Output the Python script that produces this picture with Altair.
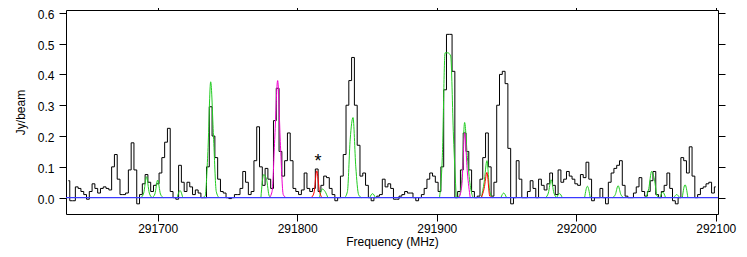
import altair as alt
import pandas as pd

# ---- data ----
freq_start = 291636.0   # MHz, first channel centre
chan_width = 2.0        # MHz

spectrum = [
    0.055, -0.01, -0.01, 0.035, 0.03, 0.02, 0.01, -0.005, 0.02, 0.045,
    0.03, 0.015, 0.03, 0.035, 0.03, 0.025, 0.1, 0.14, 0.06, 0.01,
    0.01, 0.015, 0.09, 0.178, 0.09, -0.02, 0.01, 0.045, 0.075, 0.05,
    0.02, 0.04, 0.045, 0.08, 0.13, 0.18, 0.225, 0.02, 0.0, -0.005,
    0.105, 0.05, 0.02, 0.05, 0.035, 0.01, 0.025, 0.015, 0.0, 0.0,
    0.1, 0.295, 0.2, 0.13, 0.06, 0.02, 0.015, 0.0, -0.003, 0.0,
    0.01, 0.01, 0.03, 0.085, 0.05, 0.01, 0.02, 0.12, 0.23, 0.1,
    0.04, 0.095, 0.06, 0.03, 0.25, 0.355, 0.15, 0.07, 0.12, 0.21,
    0.12, 0.03, 0.02, 0.01, 0.025, 0.08, 0.03, 0.02, 0.03, 0.093,
    0.02, 0.04, 0.07, 0.065, 0.03, 0.01, -0.01, 0.0, 0.07, 0.14,
    0.3, 0.38, 0.455, 0.3, 0.17, 0.07, 0.08, 0.04, 0.0, -0.01,
    0.0, 0.005, 0.01, 0.06, 0.035, 0.045, 0.03, -0.005, -0.005, 0.005,
    0.01, 0.02, 0.015, 0.015, 0.0, -0.01, 0.0, 0.01, 0.03, 0.06,
    0.08, 0.07, 0.05, 0.02, 0.1, 0.35, 0.53, 0.53, 0.41, 0.0,
    0.02, 0.09, 0.21, 0.15, 0.09, 0.02, 0.0, 0.005, 0.06, 0.13,
    0.21, 0.1, 0.005, 0.05, 0.3, 0.4, 0.41, 0.37, 0.16, -0.02,
    0.0, 0.12, 0.06, 0.0, 0.0, 0.02, 0.055, 0.03, 0.0, 0.06,
    0.04, 0.025, 0.045, 0.08, 0.04, 0.01, 0.09, 0.05, 0.06, 0.085,
    0.07, 0.06, 0.045, 0.04, 0.075, 0.065, 0.115, 0.06, -0.01, 0.0,
    0.0, 0.03, 0.0, -0.02, 0.05, 0.08, 0.095, 0.105, 0.12, 0.04,
    0.005, 0.0, 0.0, 0.015, 0.035, 0.065, 0.02, 0.005, 0.02, 0.055,
    0.085, 0.01, 0.0, 0.02, 0.04, 0.08, 0.03, -0.01, -0.02, 0.0,
    0.13, 0.12, 0.08, 0.165, 0.07, 0.0, 0.01, 0.03, 0.035, 0.045,
    0.05, 0.015, 0.035,
]

# model lines: channel index -> model value (zero elsewhere)
green_chan = [27, 28, 29, 31, 32, 33, 40, 49, 50, 51, 52, 53, 70, 71, 72,
              91, 92, 100, 101, 102, 103, 104, 109, 134, 135, 136, 137, 138,
              140, 141, 142, 143, 144, 149, 150, 151, 156, 172, 173, 174,
              176, 186, 196, 197, 198, 208, 209, 210, 211, 213, 218, 221]
green_val = [0.015, 0.068, 0.015, 0.012, 0.057, 0.012, 0.023, 0.005, 0.15,
             0.376, 0.2, 0.02, 0.075, 0.06, 0.005, 0.028, 0.02, 0.02, 0.19,
             0.26, 0.1, 0.01, 0.013, 0.13, 0.47, 0.47, 0.46, 0.2, 0.005,
             0.06, 0.244, 0.13, 0.04, 0.05, 0.12, 0.02, 0.015, 0.015, 0.058,
             0.015, 0.013, 0.037, 0.01, 0.039, 0.01, 0.03, 0.085, 0.06,
             0.005, 0.018, 0.01, 0.042]

magenta_chan = [73, 74, 75, 76, 77, 141, 142, 143]
magenta_val = [0.02, 0.2, 0.38, 0.17, 0.01, 0.04, 0.21, 0.08]

red_chan = [88, 89, 90, 149, 150, 151]
red_val = [0.015, 0.087, 0.02, 0.03, 0.082, 0.005]

x_ticks = [291700, 291800, 291900, 292000, 292100]
y_ticks = [0.0, 0.1, 0.2, 0.3, 0.4, 0.5, 0.6]

star_freq = [291815]
star_y = [0.115]
star_text = ["*"]

# ---- build tables ----
n = len(spectrum)
freqs = [freq_start + chan_width * i for i in range(n)]

spec_df = pd.DataFrame({"freq": freqs, "flux": spectrum})


def model_table(chans, vals):
    """Split a sparse model into separate peaks, each closed by zero channels."""
    rows = []
    lookup = dict(zip(chans, vals))
    groups = []
    prev = None
    for c in sorted(chans):
        if prev is None or c - prev > 1:
            groups.append([])
        groups[-1].append(c)
        prev = c
    for seg, g in enumerate(groups):
        pts = [g[0] - 1] + g + [g[-1] + 1]
        for c in pts:
            if 0 <= c < n:
                rows.append({"freq": freqs[c], "val": lookup.get(c, 0.0), "seg": seg})
    return pd.DataFrame(rows)


green_df = model_table(green_chan, green_val)
magenta_df = model_table(magenta_chan, magenta_val)
red_df = model_table(red_chan, red_val)

star_df = pd.DataFrame({"freq": star_freq, "y": star_y, "t": star_text})
base_df = pd.DataFrame({"y": [0.0]})

xscale = alt.Scale(domain=[291634.3, 292101.6], nice=False, zero=False)
yscale = alt.Scale(domain=[-0.053, 0.609], nice=False, zero=False)

FONT = "Liberation Sans"

spec = alt.Chart(spec_df).mark_line(interpolate="step", color="black", strokeWidth=1).encode(
    x=alt.X("freq:Q", scale=xscale,
            axis=alt.Axis(orient="bottom", values=x_ticks, format="d",
                          title="Frequency (MHz)", titlePadding=2,
                          labelPadding=2)),
    y=alt.Y("flux:Q", scale=yscale,
            axis=alt.Axis(orient="left", values=y_ticks, format=".1f",
                          title="Jy/beam", titlePadding=10,
                          labelPadding=5, labelOffset=1.5)),
)

mirror = alt.Chart(spec_df).mark_line(strokeOpacity=0).encode(
    x=alt.X("freq:Q", scale=xscale,
            axis=alt.Axis(orient="top", values=x_ticks, labels=False, title="")),
    y=alt.Y("flux:Q", scale=yscale,
            axis=alt.Axis(orient="right", values=y_ticks, labels=False, title="")),
)


def model(df, color):
    return alt.Chart(df).mark_line(interpolate="monotone", color=color, strokeWidth=1).encode(
        x=alt.X("freq:Q", scale=xscale, axis=None),
        y=alt.Y("val:Q", scale=yscale, axis=None),
        detail="seg:N",
    )


green = model(green_df, "#22cc22")
magenta = model(magenta_df, "#f000d0")
red = model(red_df, "#ff0000")

baseline = alt.Chart(base_df).mark_rule(color="#3a3aff", strokeWidth=1.1).encode(
    y=alt.Y("y:Q", scale=yscale, axis=None)
)

star = alt.Chart(star_df).mark_text(fontSize=18, font=FONT, color="black",
                                    baseline="middle").encode(
    x=alt.X("freq:Q", scale=xscale, axis=None),
    y=alt.Y("y:Q", scale=yscale, axis=None),
    text="t:N",
)

chart = alt.layer(spec, mirror, green, magenta, red, baseline, star).resolve_axis(
    x="independent", y="independent"
).properties(
    width=652, height=204,
    autosize=alt.AutoSizeParams(type="none"),
    padding={"left": 58, "top": 2, "right": 21, "bottom": 35},
).configure_view(
    stroke="black", strokeWidth=1
).configure_axis(
    grid=False, domain=False, tickColor="black", tickSize=7, tickWidth=1,
    labelColor="black", titleColor="black", labelFont=FONT, titleFont=FONT,
    labelFontSize=12, titleFontSize=12, titleFontWeight="normal",
)

chart.save("out.html", embed_options={"renderer": "svg", "actions": False})
